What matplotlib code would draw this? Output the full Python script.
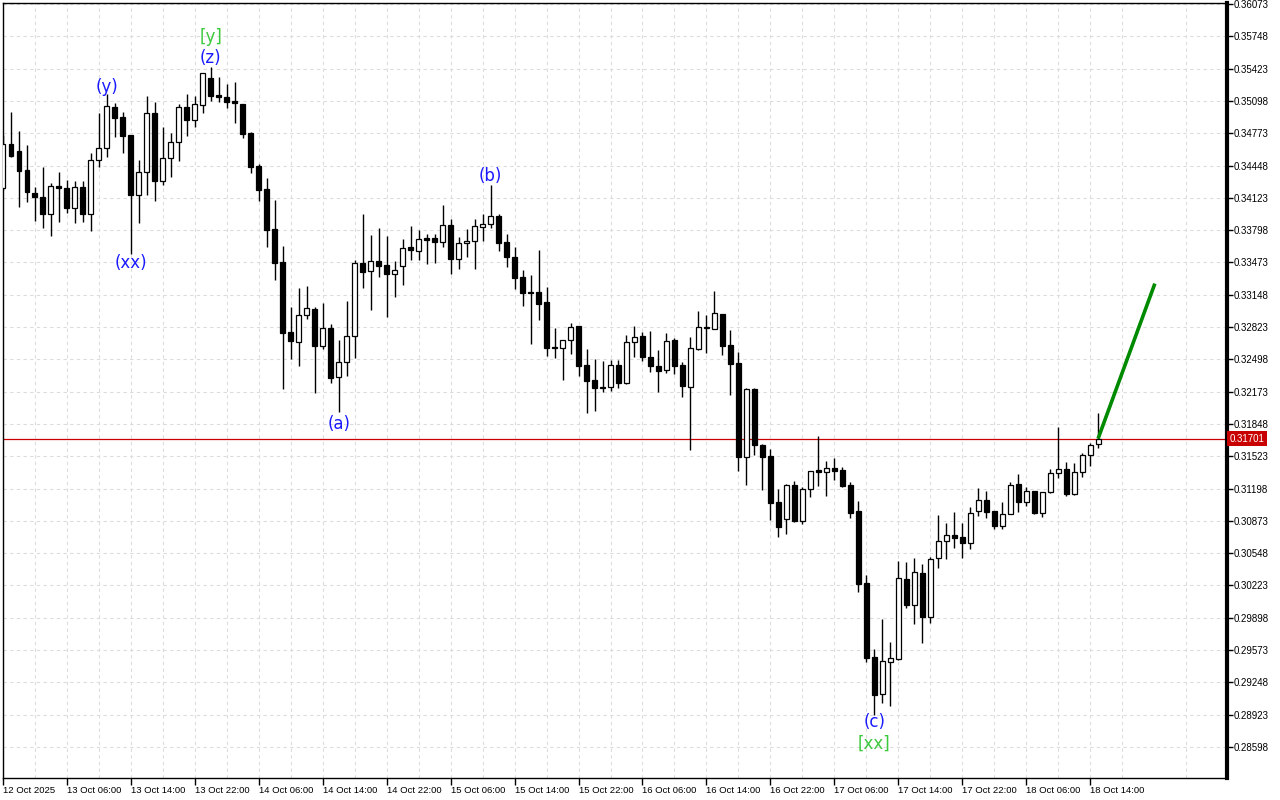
import numpy as np
import matplotlib
matplotlib.use("Agg")
import matplotlib.pyplot as plt

# hourly candles, 12 Oct 22:00 -> 18 Oct 15:00
opens = [0.3422, 0.3466, 0.3459, 0.3440, 0.3417, 0.3413, 0.3396, 0.3424, 0.3422, 0.3402,
         0.3423, 0.3396, 0.3450, 0.3462, 0.3504, 0.3494, 0.3475, 0.3415, 0.3438, 0.3498,
         0.3429, 0.3452, 0.3468, 0.3504, 0.3491, 0.3506, 0.3533, 0.3516, 0.3514, 0.3510,
         0.3507, 0.3478, 0.3444, 0.3421, 0.3381, 0.3348, 0.3277, 0.3267, 0.3294, 0.3300,
         0.3263, 0.3281, 0.3232, 0.3247, 0.3273, 0.3347, 0.3339, 0.3349, 0.3345, 0.3336,
         0.3344, 0.3363, 0.3359, 0.3372, 0.3372, 0.3368, 0.3385, 0.3351, 0.3367, 0.3369,
         0.3383, 0.3386, 0.3394, 0.3368, 0.3353, 0.3333, 0.3318, 0.3318, 0.3307, 0.3262,
         0.3261, 0.3269, 0.3283, 0.3244, 0.3229, 0.3222, 0.3222, 0.3244, 0.3226, 0.3267,
         0.3273, 0.3252, 0.3243, 0.3239, 0.3269, 0.3244, 0.3222, 0.3260, 0.3281, 0.3280,
         0.3295, 0.3264, 0.3246, 0.3152, 0.3220, 0.3164, 0.3153, 0.3106, 0.3089, 0.3123,
         0.3087, 0.3119, 0.3138, 0.3136, 0.3140, 0.3138, 0.3123, 0.3097, 0.3025, 0.2950,
         0.2913, 0.2945, 0.2948, 0.3029, 0.3003, 0.3035, 0.2991, 0.3050, 0.3067, 0.3073,
         0.3071, 0.3065, 0.3097, 0.3108, 0.3097, 0.3082, 0.3094, 0.3124, 0.3106, 0.3117,
         0.3095, 0.3116, 0.3135, 0.3139, 0.3114, 0.3136, 0.3154, 0.3165]
highs = [0.3475, 0.3499, 0.3480, 0.3465, 0.3423, 0.3443, 0.3427, 0.3438, 0.3430, 0.3429,
         0.3429, 0.3457, 0.3498, 0.3517, 0.3508, 0.3499, 0.3475, 0.3450, 0.3515, 0.3509,
         0.3484, 0.3478, 0.3507, 0.3517, 0.3515, 0.3538, 0.3544, 0.3534, 0.3527, 0.3529,
         0.3507, 0.3479, 0.3446, 0.3432, 0.3410, 0.3364, 0.3302, 0.3322, 0.3324, 0.3302,
         0.3306, 0.3285, 0.3269, 0.3308, 0.3350, 0.3396, 0.3375, 0.3382, 0.3374, 0.3349,
         0.3371, 0.3384, 0.3380, 0.3376, 0.3376, 0.3405, 0.3391, 0.3373, 0.3381, 0.3391,
         0.3396, 0.3425, 0.3396, 0.3376, 0.3363, 0.3340, 0.3335, 0.3360, 0.3323, 0.3281,
         0.3269, 0.3286, 0.3283, 0.3260, 0.3250, 0.3248, 0.3249, 0.3249, 0.3274, 0.3283,
         0.3277, 0.3278, 0.3259, 0.3276, 0.3271, 0.3247, 0.3272, 0.3298, 0.3294, 0.3319,
         0.3295, 0.3279, 0.3257, 0.3221, 0.3221, 0.3165, 0.3160, 0.3119, 0.3124, 0.3127,
         0.3121, 0.3137, 0.3173, 0.3148, 0.3151, 0.3141, 0.3126, 0.3107, 0.3033, 0.2958,
         0.2989, 0.2965, 0.3047, 0.3046, 0.3050, 0.3044, 0.3051, 0.3093, 0.3085, 0.3096,
         0.3085, 0.3101, 0.3120, 0.3117, 0.3097, 0.3106, 0.3126, 0.3134, 0.3121, 0.3117,
         0.3116, 0.3139, 0.3182, 0.3147, 0.3146, 0.3156, 0.3166, 0.3196]
lows = [0.3420, 0.3453, 0.3403, 0.3408, 0.3389, 0.3382, 0.3374, 0.3388, 0.3397, 0.3387,
        0.3388, 0.3379, 0.3443, 0.3453, 0.3473, 0.3457, 0.3356, 0.3387, 0.3415, 0.3409,
        0.3425, 0.3433, 0.3449, 0.3474, 0.3484, 0.3498, 0.3510, 0.3509, 0.3503, 0.3488,
        0.3472, 0.3437, 0.3409, 0.3363, 0.3330, 0.3220, 0.3250, 0.3243, 0.3290, 0.3216,
        0.3260, 0.3226, 0.3197, 0.3233, 0.3251, 0.3322, 0.3299, 0.3333, 0.3292, 0.3313,
        0.3325, 0.3350, 0.3350, 0.3346, 0.3347, 0.3363, 0.3336, 0.3341, 0.3353, 0.3341,
        0.3369, 0.3382, 0.3359, 0.3343, 0.3321, 0.3303, 0.3265, 0.3289, 0.3253, 0.3251,
        0.3229, 0.3255, 0.3233, 0.3196, 0.3198, 0.3217, 0.3218, 0.3221, 0.3225, 0.3252,
        0.3248, 0.3237, 0.3217, 0.3236, 0.3235, 0.3212, 0.3159, 0.3259, 0.3256, 0.3280,
        0.3254, 0.3214, 0.3137, 0.3123, 0.3154, 0.3118, 0.3088, 0.3071, 0.3074, 0.3086,
        0.3084, 0.3111, 0.3122, 0.3112, 0.3128, 0.3121, 0.3090, 0.3016, 0.2945, 0.2892,
        0.2904, 0.2901, 0.2947, 0.3000, 0.2984, 0.2964, 0.2985, 0.3040, 0.3049, 0.3060,
        0.3050, 0.3059, 0.3092, 0.3090, 0.3079, 0.3079, 0.3094, 0.3096, 0.3102, 0.3094,
        0.3091, 0.3115, 0.3130, 0.3112, 0.3113, 0.3131, 0.3142, 0.3161]
closes = [0.3466, 0.3454, 0.3439, 0.3418, 0.3413, 0.3396, 0.3424, 0.3422, 0.3402, 0.3423,
          0.3396, 0.3450, 0.3462, 0.3505, 0.3493, 0.3474, 0.3415, 0.3438, 0.3498, 0.3429,
          0.3452, 0.3468, 0.3504, 0.3491, 0.3507, 0.3538, 0.3515, 0.3514, 0.3509, 0.3508,
          0.3477, 0.3443, 0.3420, 0.3380, 0.3347, 0.3276, 0.3268, 0.3294, 0.3301, 0.3263,
          0.3281, 0.3231, 0.3247, 0.3273, 0.3347, 0.3338, 0.3349, 0.3344, 0.3336, 0.3340,
          0.3362, 0.3360, 0.3371, 0.3370, 0.3368, 0.3385, 0.3351, 0.3367, 0.3369, 0.3384,
          0.3386, 0.3394, 0.3367, 0.3353, 0.3332, 0.3317, 0.3317, 0.3305, 0.3261, 0.3261,
          0.3269, 0.3282, 0.3243, 0.3228, 0.3221, 0.3221, 0.3244, 0.3226, 0.3267, 0.3272,
          0.3252, 0.3243, 0.3238, 0.3268, 0.3243, 0.3223, 0.3261, 0.3282, 0.3282, 0.3296,
          0.3263, 0.3245, 0.3152, 0.3220, 0.3164, 0.3152, 0.3105, 0.3081, 0.3123, 0.3087,
          0.3119, 0.3137, 0.3136, 0.3140, 0.3137, 0.3122, 0.3095, 0.3024, 0.2949, 0.2912,
          0.2946, 0.2949, 0.3030, 0.3003, 0.3036, 0.2991, 0.3049, 0.3067, 0.3073, 0.3070,
          0.3065, 0.3095, 0.3108, 0.3096, 0.3082, 0.3094, 0.3123, 0.3106, 0.3117, 0.3095,
          0.3116, 0.3135, 0.3139, 0.3114, 0.3136, 0.3154, 0.3164, 0.31701]

last_price = 0.31701

# projected move (green line)
forecast_x = [137, 144.1]
forecast_y = [0.31701, 0.3326]

time_labels = ["12 Oct 2025", "13 Oct 06:00", "13 Oct 14:00", "13 Oct 22:00", "14 Oct 06:00",
               "14 Oct 14:00", "14 Oct 22:00", "15 Oct 06:00", "15 Oct 14:00", "15 Oct 22:00",
               "16 Oct 06:00", "16 Oct 14:00", "16 Oct 22:00", "17 Oct 06:00", "17 Oct 14:00",
               "17 Oct 22:00", "18 Oct 06:00", "18 Oct 14:00"]
price_ticks = [0.36073, 0.35748, 0.35423, 0.35098, 0.34773, 0.34448, 0.34123, 0.33798,
               0.33473, 0.33148, 0.32823, 0.32498, 0.32173, 0.31848, 0.31523, 0.31198,
               0.30873, 0.30548, 0.30223, 0.29898, 0.29573, 0.29248, 0.28923, 0.28598]

# wave labels: text, candle index, price, colour
wave_text = ["(y)", "(xx)", "[y]", "(z)", "(a)", "(b)", "(c)", "[xx]"]
wave_idx = [13, 16, 26, 26, 42, 61, 109, 109]
wave_price = [0.3524, 0.3347, 0.3574, 0.3553, 0.3185, 0.3434, 0.2885, 0.2863]
wave_color = ["#1a1aff", "#1a1aff", "#3cc83c", "#1a1aff", "#1a1aff", "#1a1aff", "#1a1aff", "#3cc83c"]

o = np.array(opens)
h = np.array(highs)
l = np.array(lows)
c = np.array(closes)
x = np.arange(len(o))

fig = plt.figure(figsize=(12.8, 8), dpi=100)
ax = fig.add_axes([3 / 1280, 22 / 800, 1224 / 1280, 775 / 800])

up = c >= o
body_col = np.where(up, "white", "black")

""" candles """
ax.vlines(x, l, h, color="black", linewidth=1, zorder=3)
ax.bar(x, c - o, bottom=o, width=0.62, color=body_col, edgecolor="black",
       linewidth=0.9, zorder=4)

""" last price line + arrow """
ax.axhline(last_price, color="#cc0000", linewidth=0.9, zorder=2)
ax.plot(forecast_x, forecast_y, color="#008a00", linewidth=2.6, zorder=5,
        solid_capstyle="butt")

for t, xi, yi, col in zip(wave_text, wave_idx, wave_price, wave_color):
    ax.text(xi, yi, t, color=col, fontsize=12, ha="center", va="center", zorder=6)

ax.set_xlim(0.125, 153.125)
ax.set_ylim(0.28286, 0.36083)

# axes / ticks
ax.set_xticks(np.arange(0, 137, 8))
ax.set_xticklabels(time_labels, fontsize=6.8, family="Liberation Sans")
for lbl in ax.get_xticklabels():
    lbl.set_horizontalalignment("left")
ax.set_xticks(np.arange(4, 153, 8), minor=True)
ax.tick_params(axis="x", which="major", direction="out", length=5, width=1, pad=1)
ax.tick_params(axis="x", which="minor", length=0)

ax.yaxis.tick_right()
ax.set_yticks(price_ticks)
ax.set_yticklabels(["%.5f" % p for p in price_ticks], fontsize=7, family="Liberation Sans")
ax.tick_params(axis="y", direction="out", length=4, width=1, pad=1)

ax.grid(True, which="both", color="#dcdcdc", linestyle=(0, (3, 3)), linewidth=0.8)
ax.set_axisbelow(True)

for side in ["left", "top", "bottom"]:
    ax.spines[side].set_linewidth(1)
ax.spines["right"].set_linewidth(3)

# current price tag on the right axis
ax.text(1.002, last_price, "%.5f" % last_price, transform=ax.get_yaxis_transform(),
        ha="left", va="center", fontsize=7, family="Liberation Sans", color="white",
        bbox=dict(boxstyle="square,pad=0.25", fc="#c80000", ec="none"), clip_on=False, zorder=10)

fig.savefig("out.png", dpi=100)
